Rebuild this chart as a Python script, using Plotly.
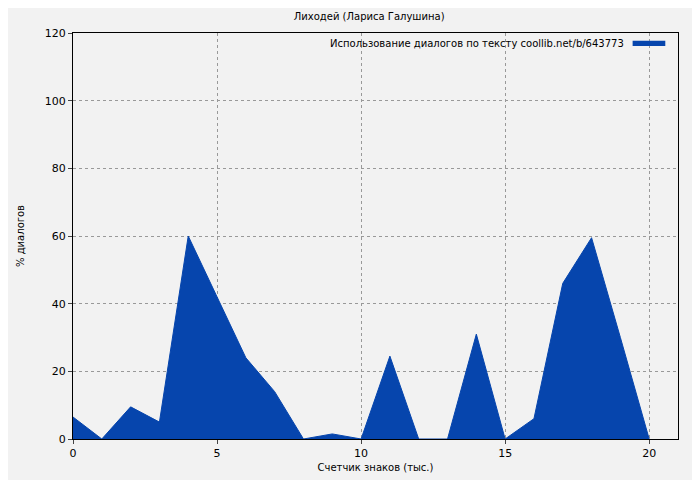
import plotly.graph_objects as go

x = list(range(21))
y = [6.5, 0, 9.5, 5, 60, 42, 24, 14, 0, 1.5, 0, 24.5, 0, 0, 31, 0, 6, 46, 59.5, 30, 0]
series_name = "Использование диалогов по тексту coollib.net/b/643773"
color = "#0645ad"

fig = go.Figure()
fig.add_trace(go.Scatter(x=x, y=y, mode="lines", fill="tozeroy", line=dict(color=color, width=1),
                         fillcolor=color, name=series_name, showlegend=False))
grid = dict(showgrid=True, gridcolor="#999", griddash="dot", gridwidth=1, showline=True, linecolor="black",
            mirror=True, ticks="outside", ticklen=4, zeroline=False, tickfont=dict(size=11, color="black"))
fig.update_layout(
    width=700, height=480, paper_bgcolor="#f2f2f2", plot_bgcolor="#f2f2f2",
    margin=dict(l=54, r=30, t=25, b=49),
    font=dict(family="DejaVu Sans", size=10, color="black"),
    title=dict(text="Лиходей (Лариса Галушина)", x=0.516, y=0.983, xanchor="center", yanchor="middle", font=dict(size=10)),
    xaxis=dict(range=[0, 21], tickvals=[0, 5, 10, 15, 20], title=dict(text="Счетчик знаков (тыс.)", standoff=4, font=dict(size=10)), **grid),
    yaxis=dict(range=[0, 120], tickvals=[0, 20, 40, 60, 80, 100, 120], title=dict(text="% диалогов", standoff=18, font=dict(size=10)), **grid),
    showlegend=False,
)
fig.add_annotation(xref="paper", yref="paper", x=0.914, y=0.975, xanchor="right", yanchor="middle",
                   text=series_name, showarrow=False, font=dict(size=10))
fig.add_shape(type="rect", xref="paper", yref="paper", x0=0.925, x1=0.979, y0=0.968, y1=0.981,
              fillcolor=color, line=dict(width=0))
fig.write_html("out.html")
